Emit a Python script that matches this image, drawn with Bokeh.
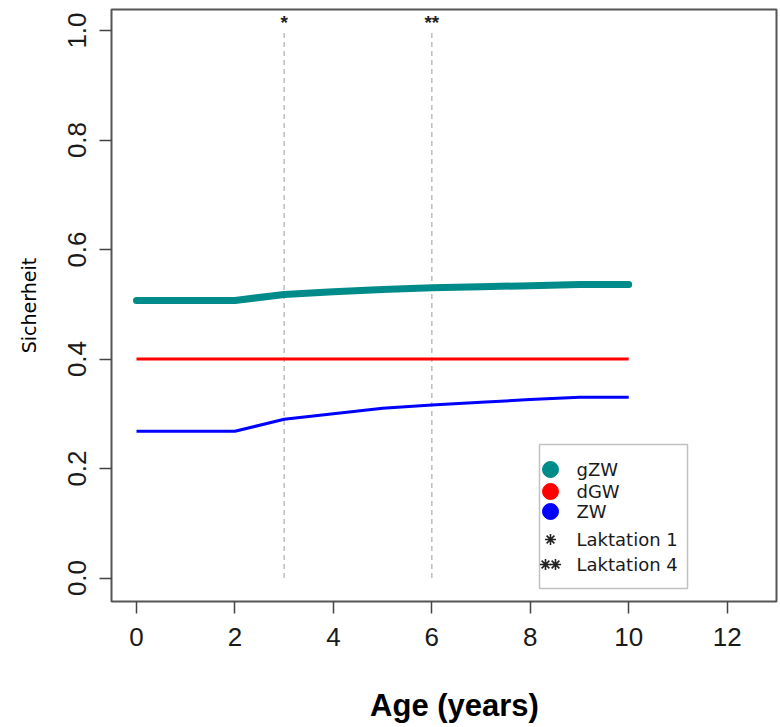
from bokeh.plotting import figure
from bokeh.models import (ColumnDataSource, FixedTicker, BoxAnnotation, Range1d,
                          NumeralTickFormatter, LinearAxis)
from bokeh.core.properties import value
from bokeh.embed import file_html
from bokeh.resources import INLINE

# ---------------- data ----------------
age = [0, 1, 2, 3, 4, 5, 6, 7, 8, 9, 10]
gzw = [0.507, 0.507, 0.507, 0.518, 0.523, 0.527, 0.530, 0.532, 0.534, 0.536, 0.536]
dgw = [0.400, 0.400, 0.400, 0.400, 0.400, 0.400, 0.400, 0.400, 0.400, 0.400, 0.400]
zw = [0.268, 0.268, 0.268, 0.290, 0.300, 0.310, 0.316, 0.321, 0.326, 0.330, 0.330]

lact_age = [3, 6]
lact_mark = ["*", "**"]

x_ticks = [0, 2, 4, 6, 8, 10, 12]
y_ticks = [0.0, 0.2, 0.4, 0.6, 0.8, 1.0]

x_label = "Age (years)"
y_label = "Sicherheit"
legend_labels = ["gZW", "dGW", " ZW", "Laktation 1", "Laktation 4"]
legend_colors = ["#008B8B", "#FF0000", "#0000FF"]

# ---------------- layout ----------------
W, H = 780, 727
MB_L, MB_R, MB_T, MB_B = 111, 4, 9, 126
FRAME_W = W - MB_L - MB_R
FRAME_H = H - MB_T - MB_B
X0, X1 = -0.508, 13.003
Y0, Y1 = -0.0429, 1.0384
XLAB_CENTER = 454  # canvas x of the x-axis title centre

FONT = "Liberation Sans"
FONT_WIDE = "DejaVu Sans"

p = figure(width=W, height=H, output_backend="svg", toolbar_location=None,
           x_range=Range1d(X0, X1), y_range=Range1d(Y0, Y1),
           min_border_left=MB_L, min_border_right=MB_R,
           min_border_top=MB_T, min_border_bottom=MB_B,
           background_fill_color="white", border_fill_color="white")
p.grid.visible = False
p.outline_line_color = "#555555"
p.outline_line_width = 2

for ax in (p.xaxis[0], p.yaxis[0]):
    ax.axis_line_color = None
    ax.major_tick_out = 12
    ax.major_tick_in = 0
    ax.major_tick_line_color = "#444444"
    ax.major_tick_line_width = 1.5
    ax.minor_tick_line_color = None
    ax.major_label_text_font = FONT
    ax.major_label_text_font_size = "26px"
    ax.major_label_text_color = "#1a1a1a"
    ax.axis_label_text_color = "black"

p.xaxis.ticker = FixedTicker(ticks=x_ticks)
p.yaxis.ticker = FixedTicker(ticks=y_ticks)
p.yaxis.formatter = NumeralTickFormatter(format="0.0")
p.xaxis.major_label_standoff = 14
p.yaxis.major_label_standoff = 13
p.yaxis.major_label_orientation = "vertical"

p.yaxis.axis_label = y_label
p.yaxis.axis_label_text_font = FONT_WIDE
p.yaxis.axis_label_text_font_style = "normal"
p.yaxis.axis_label_text_font_size = "19px"
p.yaxis.axis_label_standoff = 26

# x-axis title: a second, tick-less axis whose single label sits where the reference has it
p.extra_x_ranges = {"xlab": Range1d(MB_L - XLAB_CENTER, MB_L - XLAB_CENTER + FRAME_W)}
lab_axis = LinearAxis(x_range_name="xlab", ticker=FixedTicker(ticks=[0]),
                      major_label_overrides={0: x_label},
                      axis_line_color=None, major_tick_line_color=None, minor_tick_line_color=None,
                      major_tick_out=0, major_tick_in=0, minor_tick_out=0, minor_tick_in=0,
                      major_label_standoff=39, major_label_text_font=FONT,
                      major_label_text_font_style="bold", major_label_text_font_size="31px",
                      major_label_text_color="black")
p.add_layout(lab_axis, "below")

# ---------------- marks ----------------
src = ColumnDataSource(dict(age=age, gzw=gzw, dgw=dgw, zw=zw))

p.segment(x0=lact_age, y0=[y_ticks[0]] * len(lact_age), x1=lact_age, y1=[y_ticks[-1]] * len(lact_age),
          line_color="#bdbdbd", line_width=1.5, line_dash="5 4")
p.text(x=lact_age, y=[y_ticks[-1]] * len(lact_age), text=lact_mark, y_offset=-8,
       text_font=value(FONT), text_font_size="19px", text_font_style="bold",
       text_align="center", text_baseline="alphabetic", text_color="#222222")

p.line("age", "gzw", source=src, line_color=legend_colors[0], line_width=7, line_cap="round")
p.line("age", "dgw", source=src, line_color=legend_colors[1], line_width=3)
p.line("age", "zw", source=src, line_color=legend_colors[2], line_width=3)


# ---------------- legend (drawn box) ----------------
def px_x(px):  # canvas pixel -> data x
    return X0 + (px - MB_L) * (X1 - X0) / FRAME_W


def px_y(py):  # canvas pixel -> data y
    return Y1 - (py - MB_T) * (Y1 - Y0) / FRAME_H


LG_L, LG_R, LG_T, LG_B = 539, 687, 444, 588
row_off = [25, 47, 67, 95, 120]
mark_off, text_off = 11, 37

p.add_layout(BoxAnnotation(left=px_x(LG_L), right=px_x(LG_R), top=px_y(LG_T), bottom=px_y(LG_B),
                           fill_color="white", fill_alpha=1.0, line_color="#333333",
                           line_width=1.5, level="underlay"))

row_y = [px_y(LG_T + o) for o in row_off]
p.scatter(x=[px_x(LG_L + mark_off)] * 3, y=row_y[:3], marker="circle", size=16,
          fill_color=legend_colors, line_color=legend_colors)
p.scatter(x=[px_x(LG_L + mark_off), px_x(LG_L + mark_off - 5), px_x(LG_L + mark_off + 5)],
          y=[row_y[3], row_y[4], row_y[4]], marker="asterisk", size=11,
          line_color="#222222", line_width=1.6)
p.text(x=[px_x(LG_L + text_off)] * len(legend_labels), y=row_y, text=legend_labels,
       text_font=value(FONT_WIDE), text_font_size="18px", text_align="left",
       text_baseline="middle", text_color="#1a1a1a")

open("out.html", "w").write(file_html(p, INLINE))
